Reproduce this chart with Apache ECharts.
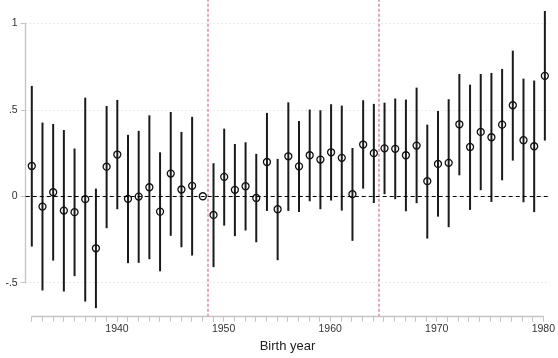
<!DOCTYPE html>
<html>
<head>
<meta charset="utf-8">
<script src="https://cdn.jsdelivr.net/npm/echarts@6/dist/echarts.min.js"></script>
<style>html,body{margin:0;padding:0;background:#fff}#c{width:558px;height:358px}</style>
</head>
<body>
<div id="c"></div>
<script>
const years = [1932,1933,1934,1935,1936,1937,1938,1939,1940,1941,1942,1943,1944,1945,1946,1947,1948,1949,1950,1951,1952,1953,1954,1955,1956,1957,1958,1959,1960,1961,1962,1963,1964,1965,1966,1967,1968,1969,1970,1971,1972,1973,1974,1975,1976,1977,1978,1979,1980];
const estimates = [0.175,-0.060,0.023,-0.083,-0.092,-0.017,-0.301,0.171,0.241,-0.015,-0.002,0.052,-0.089,0.131,0.039,0.060,0.0,-0.108,0.112,0.037,0.058,-0.010,0.198,-0.075,0.231,0.173,0.237,0.212,0.254,0.222,0.012,0.299,0.249,0.277,0.274,0.237,0.293,0.087,0.187,0.193,0.416,0.285,0.372,0.341,0.414,0.526,0.324,0.289,0.696];
const upper = [0.638,0.426,0.418,0.383,0.276,0.570,0.044,0.522,0.557,0.355,0.378,0.468,0.254,0.487,0.372,0.459,null,0.191,0.391,0.302,0.312,0.245,0.482,0.216,0.543,0.435,0.501,0.497,0.532,0.524,0.279,0.555,0.534,0.541,0.565,0.559,0.628,0.414,0.493,0.561,0.707,0.645,0.707,0.713,0.736,0.842,0.680,0.669,1.071];
const lower = [-0.291,-0.545,-0.372,-0.551,-0.462,-0.609,-0.647,-0.185,-0.075,-0.387,-0.385,-0.364,-0.434,-0.229,-0.295,-0.343,null,-0.410,-0.170,-0.231,-0.198,-0.266,-0.085,-0.370,-0.085,-0.091,-0.029,-0.075,-0.025,-0.083,-0.258,0.044,-0.039,0.012,-0.017,-0.087,-0.040,-0.245,-0.118,-0.179,0.121,-0.079,0.035,-0.033,0.092,0.206,-0.035,-0.092,0.322];
const breakYears = [1948.5, 1964.5];
const yTicks = [-0.5, 0, 0.5, 1];
const yTickLabels = ['-.5', '0', '.5', '1'];
const xLabelEvery = 10;

const ciData = years.map((y, i) => [y, lower[i], upper[i]]).filter(d => d[1] !== null);
const ptData = years.map((y, i) => [y, estimates[i]]);

const font = 'Liberation Sans, Arial, sans-serif';
const hidden = {show: false, splitLine: {show: false}, axisLine: {show: false}, axisTick: {show: false}, axisLabel: {show: false}};
const chart = echarts.init(document.getElementById('c'), null, {renderer: 'canvas'});
chart.setOption({
  animation: false,
  backgroundColor: '#fff',
  grid: [
    {left: 25.7, right: 8, top: 23.3, bottom: 75.3},
    {left: 25.7, right: 8, top: 0, bottom: 41.3},
    {left: 31.7, right: 13.3, top: 0, bottom: 41.3}
  ],
  xAxis: [
    Object.assign({gridIndex: 0, type: 'value', min: 1931.43, max: 1980.48}, hidden),
    Object.assign({gridIndex: 1, type: 'value', min: 1931.43, max: 1980.48}, hidden),
    {gridIndex: 2, type: 'value', min: 1932, max: 1980, interval: 1,
     axisLine: {lineStyle: {color: '#c4c4c4', width: 1.3}},
     axisTick: {length: 5, lineStyle: {color: '#c4c4c4', width: 1}},
     splitLine: {show: false},
     axisLabel: {margin: 7, color: '#333', fontSize: 10.5, fontFamily: font,
       formatter: v => (v % xLabelEvery === 0 ? String(v) : '')},
     name: 'Birth year', nameLocation: 'middle', nameGap: 22,
     nameTextStyle: {color: '#222', fontSize: 13, fontFamily: font}}
  ],
  yAxis: [
    {gridIndex: 0, type: 'value', min: -0.5, max: 1, interval: 0.5,
     axisLine: {show: true, lineStyle: {color: '#c4c4c4', width: 1.3}},
     axisTick: {show: true, length: 5, lineStyle: {color: '#c4c4c4'}},
     axisLabel: {margin: 8, color: '#333', fontSize: 10.5, fontFamily: font,
       formatter: v => { const k = yTicks.findIndex(t => Math.abs(t - v) < 1e-9); return k >= 0 ? yTickLabels[k] : ''; }},
     splitLine: {show: true, lineStyle: {color: '#d8d8d8', type: [1, 3], width: 1}}},
    Object.assign({gridIndex: 1, type: 'value', min: 0, max: 1}, hidden),
    Object.assign({gridIndex: 2, type: 'value', min: 0, max: 1}, hidden)
  ],
  series: [
    {
      type: 'line', xAxisIndex: 1, yAxisIndex: 1, data: [], silent: true,
      markLine: {symbol: 'none', silent: true, label: {show: false},
        lineStyle: {color: '#e0a8c4', width: 2, type: [3, 2]},
        data: breakYears.map(x => ({xAxis: x}))}
    },
    {
      type: 'custom', xAxisIndex: 0, yAxisIndex: 0, clip: false, data: ciData,
      renderItem: (params, api) => {
        const a = api.coord([api.value(0), api.value(1)]);
        const b = api.coord([api.value(0), api.value(2)]);
        return {type: 'line', shape: {x1: a[0], y1: a[1], x2: b[0], y2: b[1]},
          style: {stroke: '#1a1a1a', lineWidth: 2}};
      },
      markLine: {symbol: 'none', silent: true, label: {show: false},
        lineStyle: {color: '#000', width: 1.2, type: [4, 3]},
        data: [{yAxis: 0}]}
    },
    {
      type: 'scatter', xAxisIndex: 0, yAxisIndex: 0, data: ptData,
      symbol: 'circle', symbolSize: 7,
      itemStyle: {color: 'rgba(0,0,0,0)', borderColor: '#111', borderWidth: 1.3, opacity: 1}
    }
  ]
});
</script>
</body>
</html>
